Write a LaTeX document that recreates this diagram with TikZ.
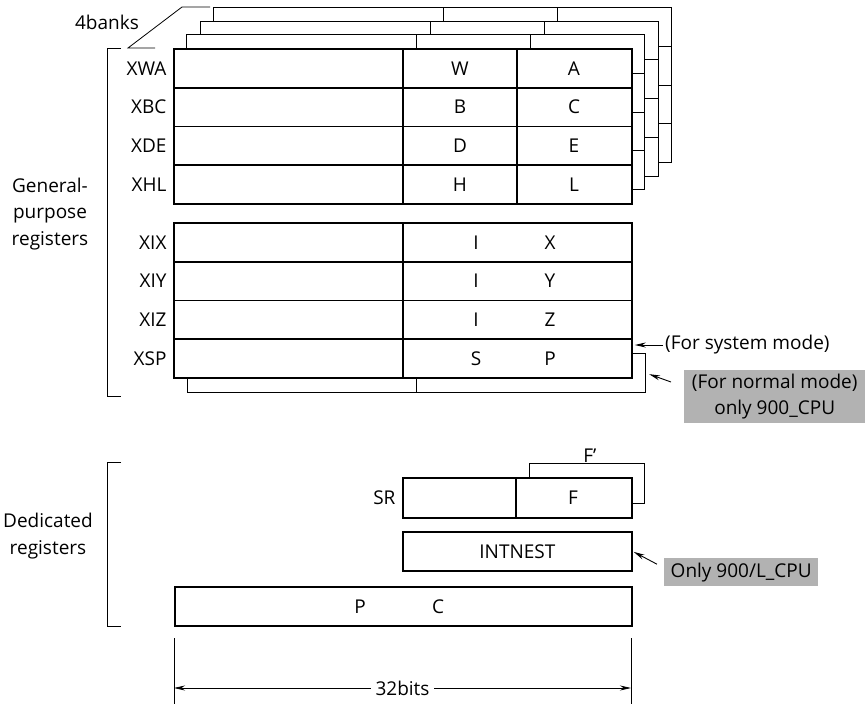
\documentclass[tikz,border=0pt]{standalone}
\usepackage{fontspec}
\setmainfont{Open Sans}
\usetikzlibrary{positioning,calc,arrows.meta}
\tikzset{%
  font=\fontsize{19}{26.5}\selectfont, >={Stealth[length=11pt,width=5pt]},
  regrow/.style={draw, rectangle, line width=1.8pt, fill=white, inner sep=0pt,
    minimum width=458pt, minimum height=38.75pt, anchor=north west},
  regline/.style={line width=1.8pt},
  bankline/.style={line width=0.9pt},
  brack/.style={line width=0.8pt},
  note/.style={fill=black!30, inner sep=1pt, align=center, anchor=north west},
  connector/.style={draw, line width=0.9pt, ->}
}
\begin{document}
\begin{tikzpicture}[x=1pt,y=-1pt]
\useasboundingbox (0,0) rectangle (865,704);

% the three banks behind
\foreach \k in {3,2,1}{
  \begin{scope}[shift={(13.5*\k,-13.5*\k)}, bankline]
    \filldraw[fill=white] (173,48) rectangle (631,203);
    \draw (403,48) -- (403,203) (517,48) -- (517,203);
    \foreach \y in {86.75,125.5,164.25} \draw (173,\y) -- (631,\y);
  \end{scope}
}

% general-purpose registers
\foreach \nm/\lab/\hi/\lo [count=\i from 0] in {xwa/XWA/W/A, xbc/XBC/B/C, xde/XDE/D/E, xhl/XHL/H/L}{
  \node[regrow] (\nm) at (173,48+38.75*\i) {};
  \node[left=3pt of \nm] {\lab};
  \node at ($(\nm.west)+(287,0)$) {\hi};
  \node at ($(\nm.west)+(401,0)$) {\lo};
}
\draw[regline] (403,48) -- (403,203) (517,48) -- (517,203);

\node[regrow, bankline] (xspbank) at (186.5,353) {};
\draw[bankline] (416.5,353) -- (416.5,392);
\foreach \nm/\lab/\hi/\lo [count=\i from 0] in {xix/XIX/I/X, xiy/XIY/I/Y, xiz/XIZ/I/Z, xsp/XSP/S/P}{
  \node[regrow] (\nm) at (173,222+38.75*\i) {};
  \node[left=3pt of \nm] {\lab};
  \node at ($(\nm.west)+(303,0)$) {\hi};
  \node at ($(\nm.west)+(377,0)$) {\lo};
}
\draw[regline] (403,222) -- (403,377);

% dedicated registers
\node[draw, bankline, minimum width=115pt, minimum height=40pt, anchor=north west] (fbank) at (529,463) {};
\node[above=-3pt of fbank, xshift=3pt] (fprime) {F’};
\node[regrow, minimum width=229pt, minimum height=40pt] (sr) at (402,477) {};
\draw[regline] (516,477) -- (516,517);
\node at ($(sr.west)+(171,0)$) {F};
\node[left=3pt of sr] {SR};
\node[regrow, minimum width=229pt, minimum height=39pt] (intnest) at (402,531) {INTNEST};
\node[regrow, minimum width=457pt, minimum height=39pt] (pc) at (174,586) {};
\node at ($(pc.west)+(186,0)$) {P};
\node at ($(pc.west)+(264,0)$) {C};

% brackets and labels
\draw[brack] (121,48) -- (107,48) -- (107,396) -- (121,396);
\draw[brack] (121,462) -- (107,462) -- (107,626) -- (121,626);
\node[align=center] (gpr) at (50,214) {General-\\purpose\\registers};
\node[align=center] (dedr) at (48,536) {Dedicated\\registers};
\node (banks) at (107,22) {4banks};
\coordinate (bankfoot) at (128,48);
\coordinate (bankcorner) at (210,7);
\draw[brack] (155,48) -- (bankfoot) -- (182,7) -- (bankcorner);

% notes
\node[anchor=west, inner sep=0pt] (sysnote) at (665,345) {(For system mode)};
\node[note, minimum width=181pt, minimum height=53pt] (normnote) at (684,370) {(For normal mode)\\only 900\_CPU};
\node[note, minimum width=154pt, minimum height=28pt] (l900) at (664,558) {Only 900/L\_CPU};
\draw[connector, shorten >=2pt] ([xshift=-2pt]sysnote.west) -- (sysnote.west -| xsp.east);
\draw[connector, shorten >=4pt] ($(normnote.north west)+(-13,12)$) -- (xspbank.east);
\draw[connector, shorten >=1pt] ([xshift=-7pt,yshift=8pt]l900.west) -- (intnest.east);

% width
\coordinate (dimL) at (174,688);
\coordinate (dimR) at (631,688);
\draw[brack] (174,638) -- (174,704) (631,638) -- (631,704);
\draw[brack, <->] (dimL) -- node[fill=white, inner sep=5pt] (bits) {32bits} (dimR);
\end{tikzpicture}
\end{document}
